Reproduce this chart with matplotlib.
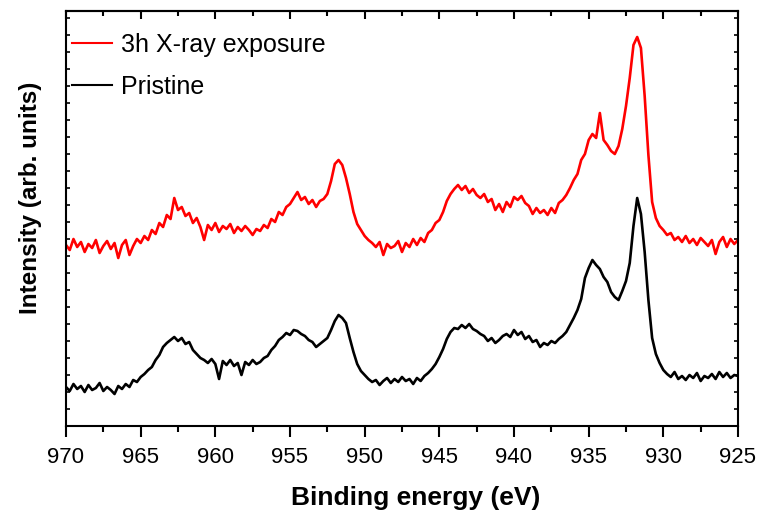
import numpy as np
import matplotlib
matplotlib.use("Agg")
import matplotlib.pyplot as plt
from matplotlib.ticker import MultipleLocator

plt.rcParams['font.family'] = ['Liberation Sans', 'DejaVu Sans']

# binding energy axis runs 970 -> 925 eV, one reading every 0.25 eV
e_start, e_end = 970, 925

# 3h X-ray exposure (arb. units)
exposed = [
    181, 176, 187, 179,   # 970
    184, 174, 182, 178,   # 969
    186, 173, 180, 185,   # 968
    177, 183, 168, 181,   # 967
    186, 171, 180, 187,   # 966
    183, 190, 186, 196,   # 965
    192, 203, 199, 211,   # 964
    207, 228, 216, 219,   # 963
    210, 213, 203, 208,   # 962
    199, 186, 201, 196,   # 961
    203, 194, 200, 197,   # 960
    202, 193, 199, 195,   # 959
    200, 196, 191, 197,   # 958
    195, 201, 198, 207,   # 957
    204, 214, 211, 219,   # 956
    222, 228, 234, 226,   # 955
    229, 222, 226, 219,   # 954
    225, 227, 232, 245,   # 953
    262, 266, 261, 248,   # 952
    232, 214, 202, 196,   # 951
    190, 186, 183, 179,   # 950
    184, 171, 182, 178,   # 949
    180, 185, 174, 183,   # 948
    179, 187, 181, 188,   # 947
    184, 193, 196, 203,   # 946
    206, 214, 225, 232,   # 945
    237, 241, 236, 240,   # 944
    233, 237, 231, 228,   # 943
    232, 224, 227, 216,   # 942
    222, 214, 224, 219,   # 941
    229, 226, 230, 223,   # 940
    220, 212, 218, 213,   # 939
    216, 211, 218, 213,   # 938
    223, 226, 231, 238,   # 937
    246, 252, 266, 272,   # 936
    286, 292, 288, 313,   # 935
    286, 281, 275, 272,   # 934
    280, 297, 320, 348,   # 933
    381, 389, 378, 330,   # 932
    271, 224, 208, 200,   # 931
    196, 191, 193, 186,   # 930
    189, 184, 190, 183,   # 929
    187, 181, 188, 184,   # 928
    180, 186, 172, 184,   # 927
    189, 179, 187, 182,   # 926
    186,                  # 925
]

# Pristine
pristine = [
    39, 35, 42, 37,       # 970
    40, 34, 41, 36,       # 969
    38, 43, 35, 39,       # 968
    36, 32, 40, 37,       # 967
    42, 39, 46, 44,       # 966
    49, 52, 56, 59,       # 965
    66, 71, 79, 83,       # 964
    86, 89, 85, 88,       # 963
    82, 84, 76, 72,       # 962
    68, 66, 63, 67,       # 961
    62, 47, 65, 61,       # 960
    66, 60, 63, 51,       # 959
    64, 61, 66, 62,       # 958
    64, 68, 70, 76,       # 957
    80, 86, 89, 93,       # 956
    91, 96, 95, 92,       # 955
    90, 86, 84, 79,       # 954
    82, 85, 88, 96,       # 953
    105, 111, 108, 103,   # 952
    88, 74, 62, 55,       # 951
    51, 47, 44, 46,       # 950
    41, 45, 48, 43,       # 949
    47, 44, 49, 45,       # 948
    47, 42, 48, 45,       # 947
    50, 53, 57, 62,       # 946
    69, 77, 87, 94,       # 945
    98, 97, 101, 98,      # 944
    102, 97, 95, 92,      # 943
    90, 85, 88, 83,       # 942
    86, 90, 92, 89,       # 941
    96, 91, 94, 87,       # 940
    90, 84, 86, 79,       # 939
    83, 81, 85, 83,       # 938
    87, 90, 94, 101,      # 937
    108, 116, 127, 148,   # 936
    158, 166, 161, 157,   # 935
    149, 144, 134, 129,   # 934
    126, 135, 145, 163,   # 933
    200, 228, 212, 174,   # 932
    126, 88, 72, 63,      # 931
    56, 52, 49, 54,       # 930
    47, 50, 46, 51,       # 929
    48, 53, 45, 50,       # 928
    48, 52, 47, 54,       # 927
    49, 53, 48, 51,       # 926
    50,                   # 925
]

energy = np.linspace(e_start, e_end, len(exposed))

fig = plt.figure(figsize=(7.65, 5.14), dpi=100)
ax = fig.add_axes([66 / 765, 88 / 514, 672 / 765, 415 / 514])

ax.plot(energy, exposed, color='#ff0000', lw=1.9, label='3h X-ray exposure')
ax.plot(energy, pristine, color='black', lw=1.9, label='Pristine')

ax.set_xlim(e_start, e_end)
ax.set_ylim(0, 415)

ax.xaxis.set_major_locator(MultipleLocator(5))
ax.xaxis.set_minor_locator(MultipleLocator(2.5))
ax.yaxis.set_major_locator(MultipleLocator(17))
ax.tick_params(axis='x', which='major', direction='out', length=8, width=1.5,
               labelsize=16, pad=7, top=False)
ax.tick_params(axis='x', which='minor', direction='out', length=4.5, width=1.5, top=False)
ax.tick_params(axis='y', which='major', direction='in', length=3, width=1.2,
               left=True, right=True, labelleft=False)

# inward ticks along the top edge
top = ax.secondary_xaxis('top')
top.xaxis.set_major_locator(MultipleLocator(5))
top.xaxis.set_minor_locator(MultipleLocator(2.5))
top.tick_params(which='major', direction='in', length=6, width=1.5, labeltop=False)
top.tick_params(which='minor', direction='in', length=3.5, width=1.5)
top.spines['top'].set_linewidth(1.5)

for s in ax.spines.values():
    s.set_linewidth(1.5)

ax.set_xlabel('Binding energy (eV)', fontsize=19, fontweight='bold')
ax.xaxis.set_label_coords(0.521, -0.145)
ax.set_ylabel('Intensity (arb. units)', fontsize=17.5, fontweight='bold')
ax.yaxis.set_label_coords(-0.036, 0.549)

leg = ax.legend(loc='upper left', bbox_to_anchor=(6 / 672, 1 - 22 / 415), frameon=False,
                fontsize=18, handlelength=1.6, handletextpad=0.36,
                borderpad=0, borderaxespad=0, labelspacing=0.72)
for line in leg.get_lines():
    line.set_linewidth(1.5)

fig.savefig('out.png', dpi=100)
